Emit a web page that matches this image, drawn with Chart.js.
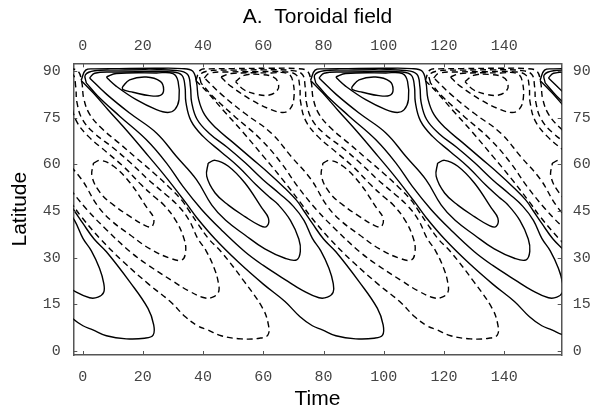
<!DOCTYPE html>
<html><head><meta charset="utf-8">
<script src="https://cdn.jsdelivr.net/npm/chart.js@4.4.1/dist/chart.umd.min.js"></script>
<style>html,body{margin:0;padding:0;background:#fff;}canvas{display:block;}</style>
</head><body>
<canvas id="c" width="599" height="411"></canvas>
<script>
const timeTicks = [0, 20, 40, 60, 80, 100, 120, 140];
const latTicks = [0, 15, 30, 45, 60, 75, 90];
const PERIOD = 76.2;

// positive (solid) contours, one cycle: [time, latitude]
const solidT1 = [[13.2,84.9],[15.6,87.2],[21.1,88.1],[25.8,86.7],[26.9,84.0],[25.8,82.2],[22.2,82.1],[16.7,83.2],[13.4,84.0],[13.2,84.9]];
const solidT2 = [[7.9,88.1],[11.2,89.2],[24.5,89.4],[30.0,89.2],[31.7,86.7],[32.0,80.8],[30.6,77.6],[28.3,76.7],[24.5,77.6],[17.8,80.8],[11.2,85.1],[8.4,87.5],[7.9,88.1]];
const solidM1 = [[41.7,60.4],[44.0,61.3],[48.4,59.4],[53.9,54.0],[59.5,46.0],[61.7,42.7],[61.1,40.0],[58.9,40.3],[53.9,43.2],[48.4,46.9],[44.0,50.8],[41.2,56.2],[41.7,60.4]];
const solidM2 = [[2.3,87.8],[4,89.3],[10,89.7],[20,89.8],[30,89.7],[33,88.6],[34,85],[34.3,80],[36,74],[40,69],[46,64],[52,59],[57.5,53.5],[62,49.5],[65,47],[69,42],[71.8,36],[72.3,32],[71.1,29.3],[67.2,29.8],[60.5,32.8],[53.9,37.3],[47.5,42],[42.9,46.9],[37.8,55.1],[31.1,62.6],[24.5,70.1],[15.6,76.5],[8,82.5],[2.3,87.8]];
const solidSa = [[1.2,86.2],[0.9,88.8],[4,90.1],[12,90.3],[22,90.4],[31,90.2],[34.8,89],[35.8,85],[36.2,80],[38,74.5],[42,70],[48,65.5],[54,60.5],[60,55],[65.5,50.5],[70,46.5],[73.5,42],[76.3,36.2],[79.1,32.2],[81.8,26.6],[83.2,21.8],[83.2,18.9],[81.3,17.3],[78.5,17.1],[73,19.5],[68.3,22.3],[60,27.5],[53.9,31.9],[46,39],[39.5,45.5],[33.3,52.9],[27.8,60.5],[21.1,68.0],[12.3,75.5],[5,82],[1.2,86.2]];
const solidSb = [[-0.5,87],[1,90.3],[4,90.7],[12,90.8],[24,90.9],[33,90.8],[36.5,90],[37.8,86.5],[38.5,81],[40.5,76],[44.5,71.5],[50,67],[56,62],[62,57],[67,52.5],[71,48.5],[73.5,45],[76.3,41],[80,36],[84.1,31.9],[91.8,22.3],[97.9,13.7],[99.8,8.4],[99.6,5.1],[96.8,4.1],[90.7,3.9],[84.1,4.9],[79.6,6.8],[76.3,8.1],[72.2,11.0],[67.2,15.9],[60,21.5],[51.7,28.6],[44,36],[37.8,43],[34,48],[28,55.5],[22,62.5],[15,70.5],[8.5,77.5],[3.5,83],[-0.5,87]];

// negative (dashed) contours, one cycle: [time, latitude]
const dashT1 = [[50.8,86.6],[53.6,88.6],[59.0,88.9],[63.5,88.0],[65.0,86.0],[64.7,83.9],[62.0,82.3],[58.0,82.5],[53.6,84.0],[50.8,86.6]];
const dashT2 = [[46.0,88.1],[49.3,89.2],[62.6,89.4],[68.1,89.2],[69.8,86.7],[70.1,80.8],[68.7,77.6],[66.4,76.7],[62.6,77.6],[55.9,80.8],[49.3,85.1],[46.5,87.5],[46.0,88.1]];
const dashM1 = [[79.8,60.4],[82.1,61.3],[86.5,59.4],[92.0,54.0],[97.6,46.0],[99.8,42.7],[99.2,40.0],[97.0,40.3],[92.0,43.2],[86.5,46.9],[82.1,50.8],[79.3,56.2],[79.8,60.4]];
const dashM2 = [[40.4,87.8],[42.1,89.3],[48.1,89.7],[58.1,89.8],[68.1,89.7],[71.1,88.6],[72.1,85],[72.4,80],[74.1,74],[78.1,69],[84.1,64],[90.1,59],[95.6,53.5],[100.1,49.5],[103.1,47],[107.1,42],[109.9,36],[110.4,32],[109.2,29.3],[105.3,29.8],[98.6,32.8],[92.0,37.3],[85.6,42],[81.0,46.9],[75.9,55.1],[69.2,62.6],[62.6,70.1],[53.7,76.5],[46.1,82.5],[40.4,87.8]];
const dashSa = [[39.3,86.2],[39.0,88.8],[42.1,90.1],[50.1,90.3],[60.1,90.4],[69.1,90.2],[72.9,89],[73.9,85],[74.3,80],[76.1,74.5],[80.1,70],[86.1,65.5],[92.1,60.5],[98.1,55],[103.6,50.5],[108.1,46.5],[111.6,42],[114.4,36.2],[117.2,32.2],[119.9,26.6],[121.3,21.8],[121.3,18.9],[119.4,17.3],[116.6,17.1],[111.1,19.5],[106.4,22.3],[98.1,27.5],[92.0,31.9],[84.1,39],[77.6,45.5],[71.4,52.9],[65.9,60.5],[59.2,68.0],[50.4,75.5],[43.1,82],[39.3,86.2]];
const dashSb = [[37.6,87],[39.1,90.3],[42.1,90.7],[50.1,90.8],[62.1,90.9],[71.1,90.8],[74.6,90],[75.9,86.5],[76.6,81],[78.6,76],[82.6,71.5],[88.1,67],[94.1,62],[100.1,57],[105.1,52.5],[109.1,48.5],[111.6,45],[114.4,41],[118.1,36],[122.2,31.9],[129.9,22.3],[136.0,13.7],[137.9,8.4],[137.7,5.1],[134.9,4.1],[128.8,3.9],[122.2,4.9],[117.7,6.8],[114.4,8.1],[110.3,11.0],[105.3,15.9],[98.1,21.5],[89.8,28.6],[82.1,36],[75.9,43],[72.1,48],[66.1,55.5],[60.1,62.5],[53.1,70.5],[46.6,77.5],[41.6,83],[37.6,87]];

const solidSet = [solidT1, solidT2, solidM1, solidM2, solidSa, solidSb];
const dashSet = [dashT1, dashT2, dashM1, dashM2, dashSa, dashSb];
const cycles = [-2, -1, 0, 1, 2];

const datasets = [];
for (const k of cycles) {
  for (const c of solidSet) datasets.push({ data: c.map(p => ({x: p[0] + k*PERIOD, y: p[1]})), borderDash: [] });
  for (const c of dashSet) datasets.push({ data: c.map(p => ({x: p[0] + k*PERIOD, y: p[1]})), borderDash: [6, 4] });
}
datasets.forEach(d => Object.assign(d, {
  showLine: true, pointRadius: 0, borderColor: '#000', borderWidth: 1.4,
  tension: 0.4, fill: false, clip: 0
}));

const inwardTicks = {
  id: 'inwardTicks',
  afterDatasetsDraw(chart) {
    const {ctx, chartArea: a, scales} = chart;
    ctx.save();
    ctx.strokeStyle = '#555'; ctx.lineWidth = 1;
    ctx.beginPath();
    for (const v of timeTicks) {
      const x = Math.round(scales.x.getPixelForValue(v)) + 0.5;
      ctx.moveTo(x, a.bottom); ctx.lineTo(x, a.bottom - 4);
      ctx.moveTo(x, a.top); ctx.lineTo(x, a.top + 4);
    }
    for (const v of latTicks) {
      const y = Math.round(scales.y.getPixelForValue(v)) + 0.5;
      ctx.moveTo(a.left, y); ctx.lineTo(a.left + 4, y);
      ctx.moveTo(a.right, y); ctx.lineTo(a.right - 4, y);
    }
    ctx.stroke(); ctx.restore();
  }
};

const tickFont = {family: 'Liberation Mono', size: 15};
const titleFont = {family: 'Liberation Sans', size: 21};
const border = {display: true, color: '#555', width: 1.5};
function xScale(pos, title, pad, tpad) {
  return {
    type: 'linear', position: pos, min: -3.1, max: 159.1,
    afterBuildTicks: s => { s.ticks = timeTicks.map(v => ({value: v})); },
    afterFit: s => { s.height = pos === 'bottom' ? 411 - 355 : 63.3; },
    grid: {display: false, drawTicks: false}, border,
    ticks: {font: tickFont, color: '#444', padding: pad, maxRotation: 0, autoSkip: false},
    title: {display: true, text: title, font: titleFont, color: '#000', padding: tpad}
  };
}
function yScale(pos, pad) {
  const o = {
    type: 'linear', position: pos, min: -1.3, max: 92.5,
    afterBuildTicks: s => { s.ticks = latTicks.map(v => ({value: v})); },
    afterFit: s => { s.width = pos === 'left' ? 73.3 : 599 - 561.7; },
    grid: {display: false, drawTicks: false}, border,
    ticks: {font: tickFont, color: '#444', padding: pad, autoSkip: false}
  };
  if (pos === 'left') o.title = {display: true, text: 'Latitude', font: titleFont, color: '#000', padding: {top: 7.4, bottom: 0}};
  return o;
}

new Chart(document.getElementById('c'), {
  type: 'scatter',
  data: {datasets},
  options: {
    responsive: false, animation: false, devicePixelRatio: 1,
    layout: {padding: 0},
    plugins: {legend: {display: false}, tooltip: {enabled: false}},
    scales: {
      x: xScale('bottom', 'Time', 13.5, {top: 0, bottom: -1}),
      x2: xScale('top', 'A.  Toroidal field', 8.5, {top: 5, bottom: 0}),
      y: yScale('left', 12.5),
      y2: yScale('right', 11)
    }
  },
  plugins: [inwardTicks]
});
</script>
</body></html>
